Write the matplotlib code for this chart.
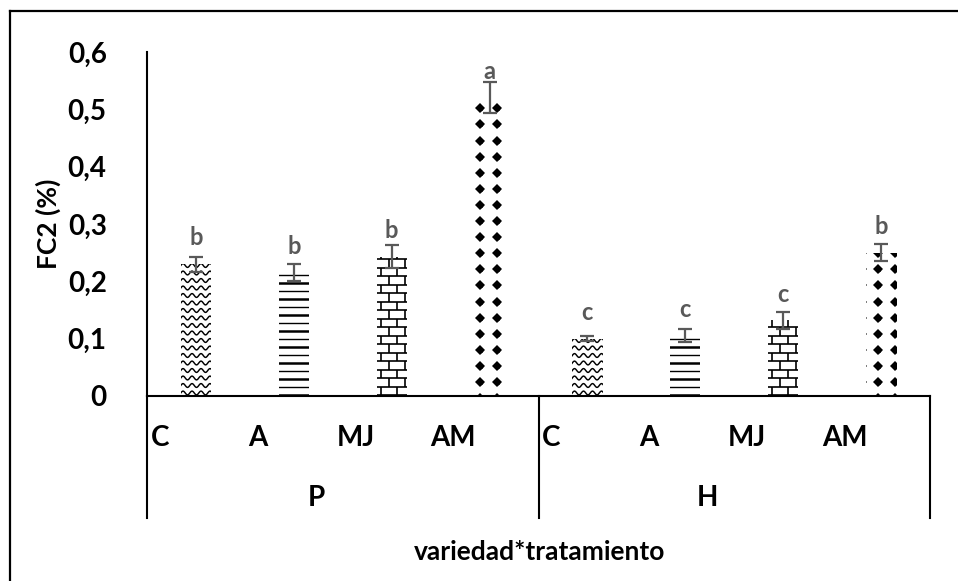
import numpy as np
import matplotlib
matplotlib.use("Agg")
import matplotlib.pyplot as plt
from matplotlib.lines import Line2D
from matplotlib.collections import LineCollection
from matplotlib.transforms import IdentityTransform

# ---- data -------------------------------------------------------------
varieties = ["P", "H"]
treatments = ["C", "A", "MJ", "AM"]
fc2_P = [0.230, 0.215, 0.243, 0.520]
fc2_H = [0.100, 0.105, 0.132, 0.250]
err_P = [0.013, 0.015, 0.020, 0.027]
err_H = [0.004, 0.011, 0.015, 0.015]
letters_P = ["b", "b", "b", "a"]
letters_H = ["c", "c", "c", "b"]
y_ticks = [0.0, 0.1, 0.2, 0.3, 0.4, 0.5, 0.6]
y_tick_labels = ["0", "0,1", "0,2", "0,3", "0,4", "0,5", "0,6"]
y_label = "FC2 (%)"
x_label = "variedad*tratamiento"

FONT = "Lato"
BLACK = "#000000"
GREY = "#595959"

values = fc2_P + fc2_H
errors = err_P + err_H
letters = letters_P + letters_H
n_treat = len(treatments)
positions = np.arange(len(values))

W, H = 958, 581
fig = plt.figure(figsize=(W / 100, H / 100), dpi=100)
fig.patch.set_facecolor("white")
ax = fig.add_axes([147 / W, 185 / H, 783 / W, 344 / H])
ax.set_xlim(-0.5, len(values) - 0.5)
ax.set_ylim(0, 0.6)

bars = ax.bar(positions, values, width=0.31, color="white", edgecolor="none",
              zorder=2)

# ---- pattern fills (drawn in pixel space, clipped to each bar) ---------
def bar_box(bar):
    (x0, y0), (x1, y1) = ax.transData.transform(
        [(bar.get_x(), 0), (bar.get_x() + bar.get_width(), bar.get_height())])
    return x0, y0, x1, y1


def clip_to(artist, bar):
    # clip to the bar's rectangle in data space
    artist.set_clip_box(None)
    artist.set_clip_path(bar)


def add_lines(segments, bar, lws):
    lc = LineCollection(segments, colors=BLACK, linewidths=lws,
                        transform=IdentityTransform(), zorder=3)
    ax.add_collection(lc, autolim=False)
    clip_to(lc, bar)


def wave_fill(bar):
    x0, y0, x1, y1 = bar_box(bar)
    xs = np.arange(x0 - 10, x1 + 10, 0.5)
    segs = []
    for yr in np.arange(y0 + 3, y1 + 8, 7.5):
        ys = yr + 1.9 * np.sin(2 * np.pi * (xs - x0) / 9.0)
        segs.append(np.column_stack([xs, ys]))
    add_lines(segs, bar, 1.05)


def stripe_fill(bar):
    x0, y0, x1, y1 = bar_box(bar)
    segs, lws = [], []
    for i, yr in enumerate(np.arange(y0 + 1, y1 + 8, 8.0)):
        segs.append([(x0 - 2, yr), (x1 + 2, yr)])
        lws.append(1.8 if i % 2 == 0 else 1.0)
    add_lines(segs, bar, lws)


def brick_fill(bar):
    x0, y0, x1, y1 = bar_box(bar)
    step, brick = 8.5, 16.0
    segs = []
    rows = np.arange(y0 + 1, y1 + step, step)
    for i, yr in enumerate(rows):
        segs.append([(x0 - 2, yr), (x1 + 2, yr)])
        off = 4.0 if i % 2 == 0 else 12.0
        for xv in np.arange(x0 + off, x1 + 2, brick):
            segs.append([(xv, yr), (xv, yr + step)])
    add_lines(segs, bar, 1.2)


# dot grid shared by all dotted bars (pixel coordinates)
DOT_STEP_X, DOT_STEP_Y = 16.6, 16.1
DOT_X0, DOT_Y0 = 480.0, 199.0


def dot_fill(bar):
    x0, y0, x1, y1 = bar_box(bar)
    kx = np.arange(np.floor((x0 - 10 - DOT_X0) / DOT_STEP_X),
                   np.ceil((x1 + 10 - DOT_X0) / DOT_STEP_X) + 1)
    gx = DOT_X0 + kx * DOT_STEP_X
    gy = np.arange(DOT_Y0 - DOT_STEP_Y, y1 + DOT_STEP_Y, DOT_STEP_Y)
    xx, yy = np.meshgrid(gx, gy)
    for marker, size in (("D", 4.9), ("o", 4.3)):
        ln = Line2D(xx.ravel(), yy.ravel(), linestyle="none", marker=marker,
                    markersize=size, color=BLACK, markeredgewidth=0,
                    transform=IdentityTransform(), zorder=3)
        ax.add_line(ln)
        clip_to(ln, bar)


fills = [wave_fill, stripe_fill, brick_fill, dot_fill]
for i, bar in enumerate(bars):
    fills[i % n_treat](bar)

# ---- error bars and significance letters ------------------------------
ax.errorbar(positions, values, yerr=errors, fmt="none", ecolor=GREY,
            elinewidth=1.6, capsize=5, capthick=1.6, zorder=4)
for x, v, let in zip(positions, values, letters):
    ax.annotate(let, (x, v), xytext=(0, 13.5), textcoords="offset points",
                ha="center", va="baseline", color=GREY, fontsize=17,
                fontweight="bold", family=FONT, zorder=5)

# ---- axes styling -----------------------------------------------------
for side in ("top", "right"):
    ax.spines[side].set_visible(False)
ax.spines["left"].set_linewidth(1.5)
ax.spines["bottom"].set_linewidth(1.5)
ax.set_yticks(y_ticks)
ax.set_yticklabels(y_tick_labels, fontsize=20, fontweight="bold",
                   family=FONT)
ax.tick_params(axis="y", length=0, pad=29)
ax.set_xticks([])
ax.set_ylabel(y_label, fontsize=19, fontweight="bold", family=FONT)
ax.yaxis.set_label_coords(-0.11, 0.5)

# multi-level category axis: treatment labels, variety labels and brackets
bracket_depth = -122 / 344
for x, lab in zip(positions, treatments * len(varieties)):
    ax.text(x - 0.5 + 0.13, -42 / 344, lab, transform=ax.get_xaxis_transform(),
            ha="center", va="center", fontsize=20, fontweight="bold",
            family=FONT, clip_on=False)
for g, var in enumerate(varieties):
    centre = g * n_treat + (n_treat - 1) / 2
    ax.text(centre - 0.27, -102 / 344, var, transform=ax.get_xaxis_transform(),
            ha="center", va="center", fontsize=20, fontweight="bold",
            family=FONT, clip_on=False)
for g in range(len(varieties) + 1):
    xb = g * n_treat - 0.5
    ax.add_line(Line2D([xb, xb], [0, bracket_depth], color=BLACK, lw=1.5,
                       transform=ax.get_xaxis_transform(), clip_on=False))

fig.text(540 / W, 1 - 552 / H, x_label, ha="center", va="center",
         fontsize=19, fontweight="bold", family=FONT)

# chart-area frame (open at right and bottom)
fig.add_artist(Line2D([10 / W, 10 / W], [0, 1 - 11 / H], color=BLACK, lw=1.6,
                      transform=fig.transFigure))
fig.add_artist(Line2D([10 / W, 1], [1 - 11 / H, 1 - 11 / H], color=BLACK,
                      lw=1.6, transform=fig.transFigure))

fig.savefig("out.png", dpi=100)
